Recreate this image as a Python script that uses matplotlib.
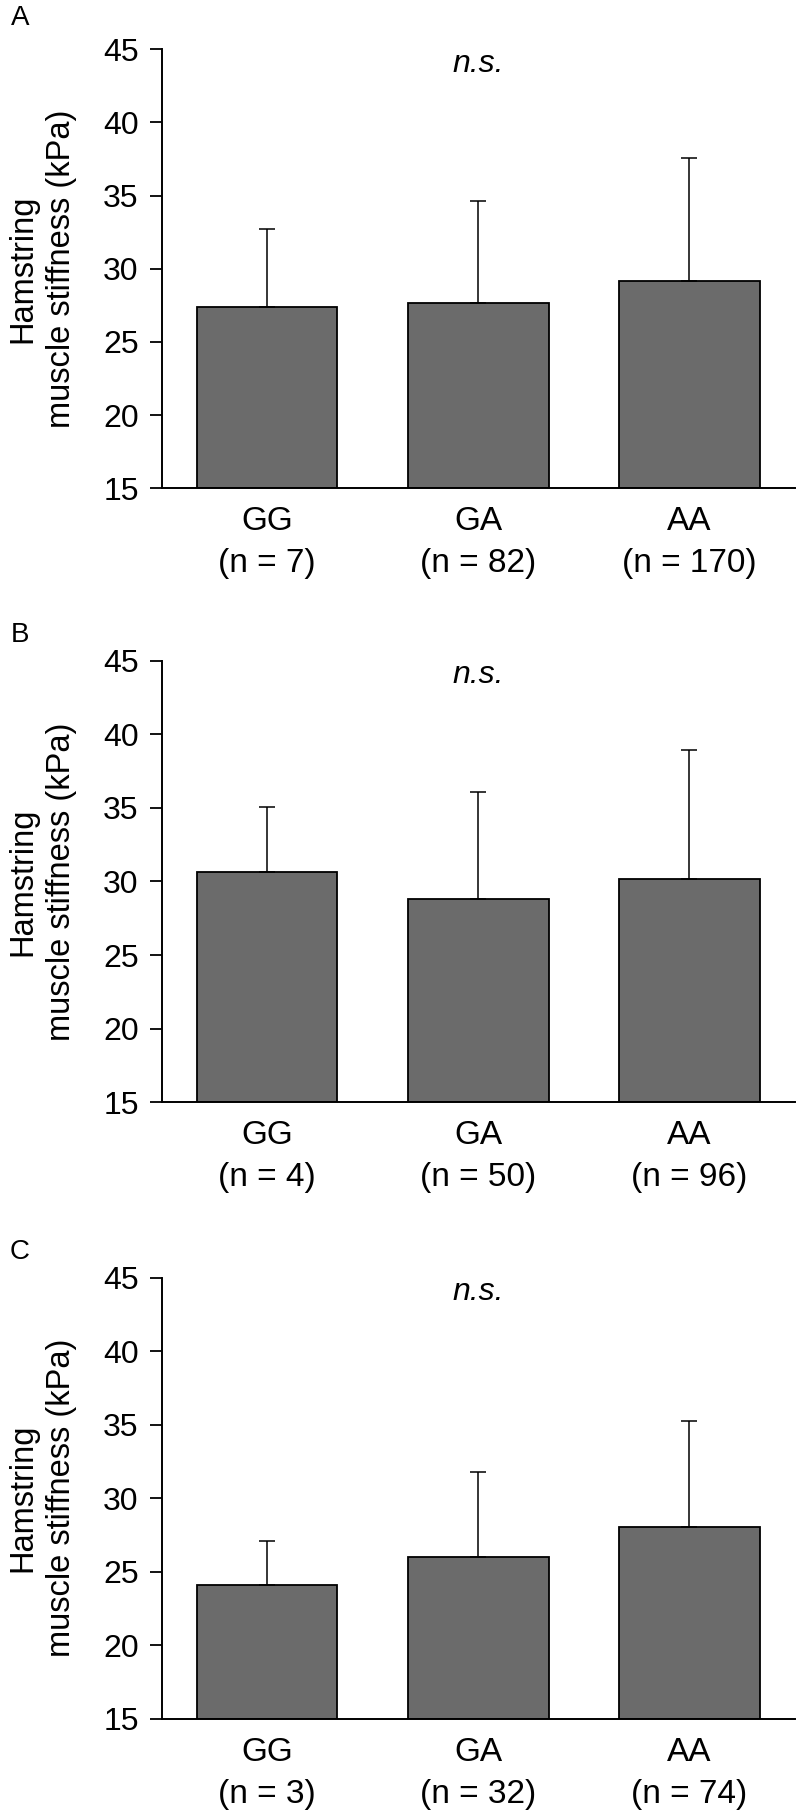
import numpy as np
import matplotlib
matplotlib.use("Agg")
from matplotlib import pyplot as plt

plt.rcParams['font.family'] = ['Liberation Sans', 'DejaVu Sans']

genotypes = ["GG", "GA", "AA"]
panel_names = ["A", "B", "C"]

# group sizes per panel
n_a = [7, 82, 170]
n_b = [4, 50, 96]
n_c = [3, 32, 74]

# mean stiffness (kPa) per panel
mean_a = [27.4, 27.65, 29.2]
mean_b = [30.67, 28.8, 30.15]
mean_c = [24.07, 25.99, 28.06]

# SD (upper error bar only)
sd_a = [5.3, 7.0, 8.4]
sd_b = [4.4, 7.3, 8.8]
sd_c = [3.05, 5.8, 7.2]

yticks = [15, 20, 25, 30, 35, 40, 45]

panels = [
    ("A", n_a, mean_a, sd_a),
    ("B", n_b, mean_b, sd_b),
    ("C", n_c, mean_c, sd_c),
]

W, H = 800, 1817
fig = plt.figure(figsize=(W / 100, H / 100), dpi=100)

# axes boxes in pixels: (top, bottom)
boxes = [(49.3, 488.3), (660.7, 1102.3), (1277.7, 1718.7)]
left_px, right_px = 161.7, 795
label_y = [18, 635, 1252]

for (name, ns, means, sds), (top, bot), ly in zip(panels, boxes, label_y):
    ax = fig.add_axes([left_px / W, 1 - bot / H, (right_px - left_px) / W, (bot - top) / H])
    x = np.arange(len(genotypes))
    ax.bar(x, np.array(means) - 15, bottom=15, width=0.665, color="#6b6b6b",
           edgecolor="black", linewidth=1.3, zorder=2)
    ax.errorbar(x, means, yerr=[np.zeros(len(sds)), sds], fmt="none", ecolor="black",
                elinewidth=1.1, capsize=6, capthick=1.1, zorder=3)
    ax.set_xlim(-0.5, 2.5)
    ax.set_ylim(15, 45)
    ax.set_yticks(yticks)
    ax.set_xticks(x)
    ax.set_xticklabels(["%s\n(n = %d)" % (g, n) for g, n in zip(genotypes, ns)],
                       linespacing=1.45)
    ax.spines["top"].set_visible(False)
    ax.spines["right"].set_visible(False)
    ax.spines["left"].set_linewidth(1.4)
    ax.spines["bottom"].set_linewidth(1.4)
    ax.tick_params(axis="y", direction="out", length=8.6, width=1.3, pad=8, labelsize=23)
    ax.tick_params(axis="x", length=0, pad=13, labelsize=24)
    ax.text(1, 44, "n.s.", style="italic", fontsize=23, ha="center", va="center")
    ax.text((42 - left_px) / (right_px - left_px), 0.5, "Hamstring\nmuscle stiffness (kPa)",
            transform=ax.transAxes, rotation=90, ha="center", va="center",
            fontsize=23.5, linespacing=1.3, multialignment="center")
    fig.text(20 / W, 1 - ly / H, name, fontsize=20, ha="center", va="center")

fig.savefig("out.png", dpi=100, facecolor="white")
